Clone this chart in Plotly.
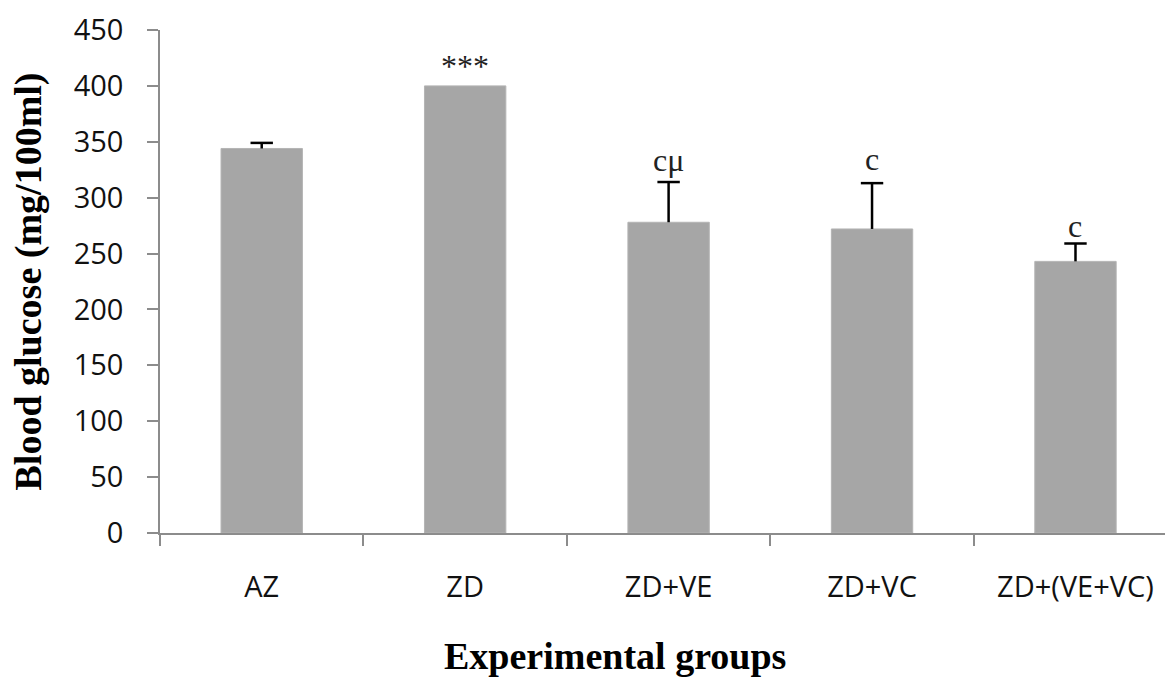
import plotly.graph_objects as go

categories = ["AZ", "ZD", "ZD+VE", "ZD+VC", "ZD+(VE+VC)"]
glucose = [344, 400, 278, 272, 243]
sem = [5, 0, 36, 41, 16]
marks = ["", "***", "cμ", "c", "c"]
y_ticks = [0, 50, 100, 150, 200, 250, 300, 350, 400, 450]

fig = go.Figure()
fig.add_trace(go.Bar(
    x=categories, y=glucose, width=0.4,
    marker=dict(color="#a6a6a6", line=dict(color="#b4b4b4", width=1)),
    showlegend=False, hoverinfo="x+y",
))

# upper error bars: stem + top cap only
stem_x, stem_y, cap_x, cap_y = [], [], [], []
for c, v, e in zip(categories, glucose, sem):
    if e > 0:
        stem_x += [c, c, None]
        stem_y += [v, v + e, None]
        cap_x.append(c)
        cap_y.append(v + e)
fig.add_trace(go.Scatter(x=stem_x, y=stem_y, mode="lines",
                         line=dict(color="black", width=2.5),
                         showlegend=False, hoverinfo="skip"))
fig.add_trace(go.Scatter(x=cap_x, y=cap_y, mode="markers",
                         marker=dict(symbol="line-ew", size=16,
                                     line=dict(color="black", width=2.5)),
                         showlegend=False, hoverinfo="skip"))

label_shift = [0, 0, 2, 4, -2]
for c, v, e, m, s in zip(categories, glucose, sem, marks, label_shift):
    if m:
        fig.add_annotation(x=c, y=v + e, text=m, showarrow=False,
                           yanchor="bottom", yshift=s,
                           font=dict(family="Liberation Serif", size=32, color="#222"))

fig.add_annotation(xref="paper", yref="paper", x=(615 - 160) / 1005, y=0.0,
                   yanchor="bottom", yshift=-146,
                   text="<b>Experimental groups</b>", showarrow=False,
                   font=dict(family="Liberation Serif", size=38, color="black"))

fig.update_layout(
    width=1165, height=679,
    margin=dict(l=160, r=0, t=30, b=146),
    plot_bgcolor="white", paper_bgcolor="white",
)
fig.update_xaxes(
    type="category", range=[-0.5, 4.44], tickson="boundaries",
    showline=True, linecolor="#8c8c8c", linewidth=1.5,
    ticks="outside", ticklen=11, tickcolor="#8c8c8c", tickwidth=1.5,
    showgrid=False, zeroline=False,
    tickfont=dict(family="Open Sans", size=29, color="#111"),
    ticklabelstandoff=27,
)
fig.update_yaxes(
    range=[0, 450], tickvals=y_ticks,
    showline=True, linecolor="#8c8c8c", linewidth=1.5,
    ticks="outside", ticklen=11, tickcolor="#8c8c8c", tickwidth=1.5,
    showgrid=False, zeroline=False,
    tickfont=dict(family="Open Sans", size=29, color="#111"),
    ticklabelstandoff=18,
    title=dict(text="<b>Blood glucose (mg/100ml)</b>", standoff=20,
               font=dict(family="Liberation Serif", size=38, color="black")),
)

fig.write_html("out.html")
